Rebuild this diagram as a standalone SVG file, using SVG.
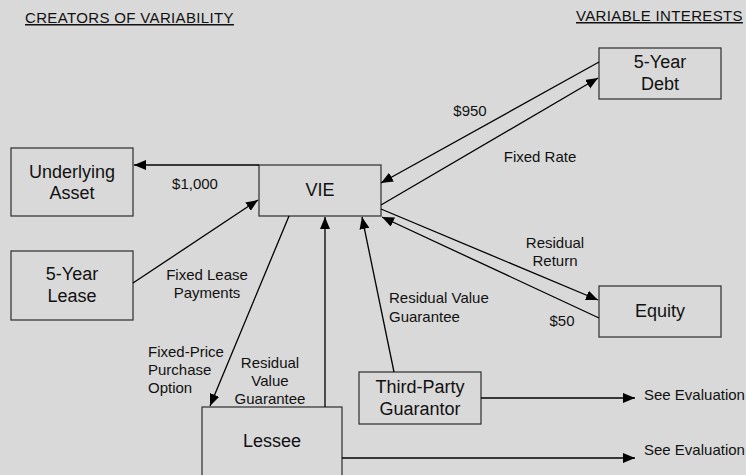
<svg xmlns="http://www.w3.org/2000/svg" width="746" height="475" viewBox="0 0 746 475">
<defs>
<marker id="arr" markerUnits="userSpaceOnUse" markerWidth="14" markerHeight="12" refX="12" refY="5" orient="auto">
<path d="M0,0 L12,5 L0,10 z" fill="#000"/>
</marker>
<style>
.box{fill:#d9d9d9;stroke:#3a3a3a;stroke-width:1.3}
.nt{font-family:"Liberation Sans",Arial,sans-serif;font-size:18px;fill:#111;text-anchor:middle}
.lb{font-family:"Liberation Sans",Arial,sans-serif;font-size:15px;fill:#111}
.c{text-anchor:middle}
.ttl{font-family:"Liberation Sans",Arial,sans-serif;font-size:15px;letter-spacing:0.35px;fill:#111;text-decoration:underline}
.ln{stroke:#000;stroke-width:1.3;fill:none;marker-end:url(#arr)}
</style>
</defs>
<rect x="0" y="0" width="746" height="475" fill="#d9d9d9"/>
<text class="ttl" x="25" y="23">CREATORS OF VARIABILITY</text>
<text class="ttl" x="576" y="21">VARIABLE INTERESTS</text>

<g id="underlying-asset">
<rect class="box" x="11" y="148" width="122" height="68"/>
<text class="nt" x="72" y="178">Underlying</text>
<text class="nt" x="72" y="199">Asset</text>
</g>
<g id="vie">
<rect class="box" x="259" y="165" width="122" height="51"/>
<text class="nt" x="320" y="196">VIE</text>
</g>
<g id="five-year-lease">
<rect class="box" x="11" y="251" width="122" height="69"/>
<text class="nt" x="72" y="280">5-Year</text>
<text class="nt" x="72" y="302">Lease</text>
</g>
<g id="five-year-debt">
<rect class="box" x="599" y="48" width="122" height="51"/>
<text class="nt" x="660" y="68">5-Year</text>
<text class="nt" x="660" y="90">Debt</text>
</g>
<g id="equity">
<rect class="box" x="599" y="286" width="122" height="51"/>
<text class="nt" x="660" y="317">Equity</text>
</g>
<g id="third-party-guarantor">
<rect class="box" x="359" y="372" width="122" height="52"/>
<text class="nt" x="420" y="393">Third-Party</text>
<text class="nt" x="420" y="415">Guarantor</text>
</g>
<g id="lessee">
<rect class="box" x="202" y="407" width="140" height="90"/>
<text class="nt" x="272" y="447">Lessee</text>
</g>

<g id="connectors">
<line class="ln" x1="259" y1="165" x2="134" y2="165"/>
<line class="ln" x1="133" y1="283" x2="258" y2="200"/>
<line class="ln" x1="289" y1="216" x2="210" y2="406"/>
<line class="ln" x1="325" y1="407" x2="325" y2="217"/>
<line class="ln" x1="394" y1="372" x2="362" y2="217"/>
<line class="ln" x1="599" y1="62" x2="381" y2="183"/>
<line class="ln" x1="381" y1="205" x2="598" y2="78"/>
<line class="ln" x1="381" y1="209" x2="598" y2="300"/>
<line class="ln" x1="599" y1="318" x2="382" y2="217"/>
<line class="ln" x1="481" y1="398" x2="635" y2="398"/>
<line class="ln" x1="342" y1="458" x2="635" y2="458"/>
</g>

<g id="labels">
<text class="lb c" x="195" y="189">$1,000</text>
<text class="lb c" x="207" y="280">Fixed Lease</text>
<text class="lb c" x="207" y="298">Payments</text>
<text class="lb" x="148" y="357">Fixed-Price</text>
<text class="lb" x="148" y="375">Purchase</text>
<text class="lb" x="148" y="393">Option</text>
<text class="lb c" x="270" y="368">Residual</text>
<text class="lb c" x="270" y="386">Value</text>
<text class="lb c" x="270" y="404">Guarantee</text>
<text class="lb" x="389" y="303">Residual Value</text>
<text class="lb" x="389" y="322">Guarantee</text>
<text class="lb c" x="555" y="248">Residual</text>
<text class="lb c" x="555" y="266">Return</text>
<text class="lb c" x="562" y="326">$50</text>
<text class="lb c" x="470" y="116">$950</text>
<text class="lb c" x="540" y="162">Fixed Rate</text>
<text class="lb" x="644" y="400">See Evaluation</text>
<text class="lb" x="644" y="455">See Evaluation</text>
</g>
</svg>
